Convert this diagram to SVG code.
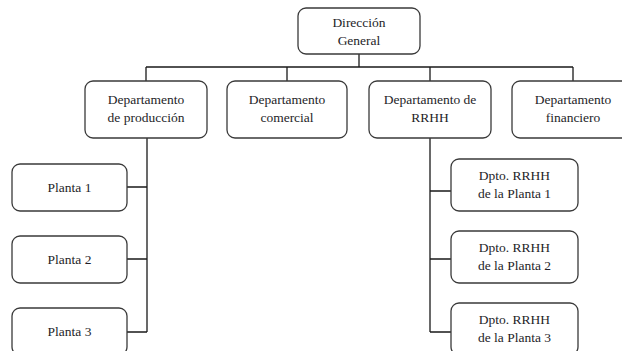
<svg xmlns="http://www.w3.org/2000/svg" width="622" height="351" viewBox="0 0 622 351">
<style>
.box{fill:#fff;stroke:#3a3a3a;stroke-width:1.3}
.lbl{font-family:"Liberation Serif","Times New Roman",serif;font-size:13.5px;fill:#1e1e28;text-anchor:middle}
.conn{fill:none;stroke:#1a1a1a;stroke-width:1.3}
</style>
<rect width="622" height="351" fill="#fff"/>
<g id="connectors">
<path class="conn" d="M359 54V67M146 67H573M146 67V81M287 67V81M430 67V81M573 67V81"/>
<path class="conn" d="M147 138V332M127 187H147M127 259H147M127 332H147"/>
<path class="conn" d="M430 138V332M430 191H451M430 259H451M430 332H451"/>
</g>
<g id="direccion">
<rect class="box" x="298" y="8" width="122" height="46" rx="8"/>
<text class="lbl" x="359" y="27">Dirección</text>
<text class="lbl" x="359" y="45">General</text>
</g>
<g id="produccion">
<rect class="box" x="85" y="81" width="122" height="57" rx="8"/>
<text class="lbl" x="146" y="104">Departamento</text>
<text class="lbl" x="146" y="122">de producción</text>
</g>
<g id="comercial">
<rect class="box" x="227" y="81" width="120" height="57" rx="8"/>
<text class="lbl" x="287" y="104">Departamento</text>
<text class="lbl" x="287" y="122">comercial</text>
</g>
<g id="rrhh">
<rect class="box" x="369" y="81" width="122" height="57" rx="8"/>
<text class="lbl" x="430" y="104">Departamento de</text>
<text class="lbl" x="430" y="122">RRHH</text>
</g>
<g id="financiero">
<rect class="box" x="512" y="81" width="122" height="57" rx="8"/>
<text class="lbl" x="573" y="104">Departamento</text>
<text class="lbl" x="573" y="122">financiero</text>
</g>
<g id="planta1">
<rect class="box" x="12" y="164" width="115" height="47" rx="8"/>
<text class="lbl" x="69.5" y="192">Planta 1</text>
</g>
<g id="planta2">
<rect class="box" x="12" y="236" width="115" height="47" rx="8"/>
<text class="lbl" x="69.5" y="264">Planta 2</text>
</g>
<g id="planta3">
<rect class="box" x="12" y="308" width="115" height="47" rx="8"/>
<text class="lbl" x="69.5" y="336">Planta 3</text>
</g>
<g id="rrhh1">
<rect class="box" x="451" y="159" width="127" height="52" rx="8"/>
<text class="lbl" x="514.5" y="180">Dpto. RRHH</text>
<text class="lbl" x="514.5" y="198">de la Planta 1</text>
</g>
<g id="rrhh2">
<rect class="box" x="451" y="231" width="127" height="52" rx="8"/>
<text class="lbl" x="514.5" y="252">Dpto. RRHH</text>
<text class="lbl" x="514.5" y="270">de la Planta 2</text>
</g>
<g id="rrhh3">
<rect class="box" x="451" y="303" width="127" height="52" rx="8"/>
<text class="lbl" x="514.5" y="324">Dpto. RRHH</text>
<text class="lbl" x="514.5" y="342">de la Planta 3</text>
</g>
</svg>
